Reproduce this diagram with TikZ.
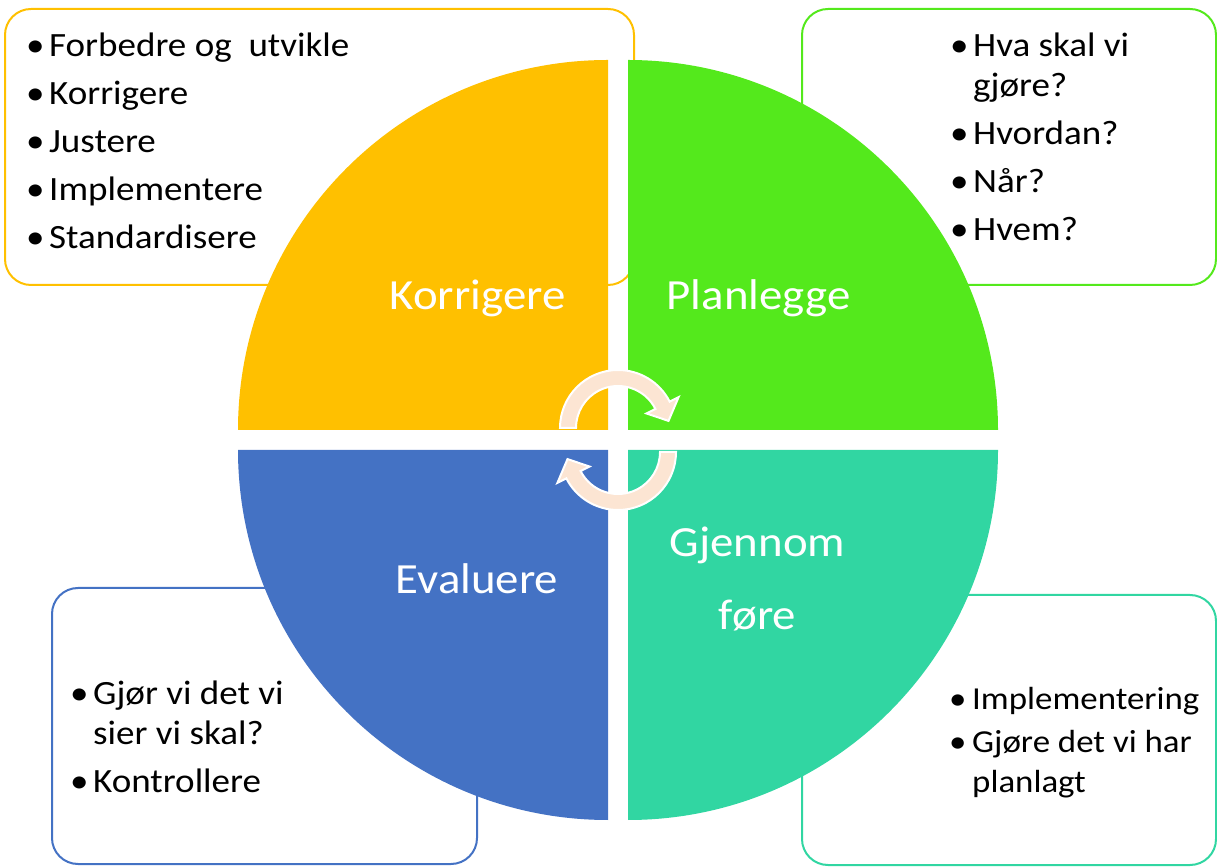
\documentclass[tikz,border=0pt]{standalone}
\usepackage{fontspec}
\setmainfont{Carlito}[FakeStretch=1.09]
\usepackage{xcolor}
\definecolor{kgul}{HTML}{FFC000}
\definecolor{pgronn}{HTML}{54E91C}
\definecolor{eblaa}{HTML}{4472C4}
\definecolor{gturkis}{HTML}{31D6A2}
\definecolor{pil}{HTML}{FCE5D3}
\tikzset{
	boks/.style={line width=2pt, rounded corners=26pt},
	punkter/.style={anchor=base west, inner sep=0pt, font=\fontsize{34}{40}\selectfont},
	fase/.style={anchor=base, inner sep=0pt, text=white, font=\fontsize{43}{73}\selectfont}
}
\newcommand{\bp}{\makebox[23pt][l]{\textbullet}}
\newcommand{\bi}{\hspace*{23pt}}

\begin{document}
\begin{tikzpicture}[x=1pt,y=1pt]
		\useasboundingbox (0,0) rectangle (1217,867);
		\coordinate (O) at (618,427);
		% rammer bak sirkelen
		\draw[boks, draw=kgul] (5,582) rectangle (634,858);
		\draw[boks, draw=pgronn] (802,582) rectangle (1216,858);
		\draw[boks, draw=eblaa] (52,3) rectangle (477,279);
		\draw[boks, draw=gturkis] (802,2) rectangle (1216,272);
		% kvartsirkler
		\fill[kgul] (608,437) -- ++(-370,0) arc[start angle=180, end angle=90, radius=370pt] -- cycle;
		\fill[pgronn] (628,437) -- ++(0,370) arc[start angle=90, end angle=0, radius=370pt] -- cycle;
		\fill[eblaa] (608,417) -- ++(0,-370) arc[start angle=270, end angle=180, radius=370pt] -- cycle;
		\fill[gturkis] (628,417) -- ++(370,0) arc[start angle=0, end angle=-90, radius=370pt] -- cycle;
		% piler i midten
		\foreach \r in {0,180}
			\filldraw[fill=pil, draw=white, line width=2pt, shift={(O)}, rotate=\r, yshift=12pt]
				(180:58) arc[start angle=180, end angle=27, radius=58pt] -- (27:68) -- (8:51) -- (27:32) -- (27:42) arc[start angle=27, end angle=180, radius=42pt] -- cycle;
		% faser
		\node[fase] (korr) at (477.5,557) {Korrigere};
		\node[fase] (plan) at (758.5,557) {Planlegge};
		\node[fase] (eval) at (477,273) {Evaluere};
		\node[fase] (gjen) at (757.5,310) {\begin{tabular}[t]{@{}c@{}}Gjennom\\ føre\end{tabular}};
		% punktlister
		\node[punkter] (korrliste) at (26,810) {\begin{tabular}[t]{@{}l@{}}
			\bp Forbedre og~ utvikle\\[8pt]
			\bp Korrigere\\[8pt]
			\bp Justere\\[8pt]
			\bp Implementere\\[8pt]
			\bp Standardisere
		\end{tabular}};
		\node[punkter] (planliste) at (950,810) {\begin{tabular}[t]{@{}l@{}}
			\bp Hva skal vi\\
			\bi gjøre?\\[8pt]
			\bp Hvordan?\\[8pt]
			\bp Når?\\[8pt]
			\bp Hvem?
		\end{tabular}};
		\node[punkter] (evalliste) at (70,162) {\begin{tabular}[t]{@{}l@{}}
			\bp Gjør vi det vi\\
			\bi sier vi skal?\\[8pt]
			\bp Kontrollere
		\end{tabular}};
		\node[punkter, font=\fontsize{32}{39}\selectfont] (gjenliste) at (949,157) {\begin{tabular}[t]{@{}l@{}}
			\bp Implementering\\[4pt]
			\bp Gjøre det vi har\\
			\bi planlagt
		\end{tabular}};
	\end{tikzpicture}
\end{document}
